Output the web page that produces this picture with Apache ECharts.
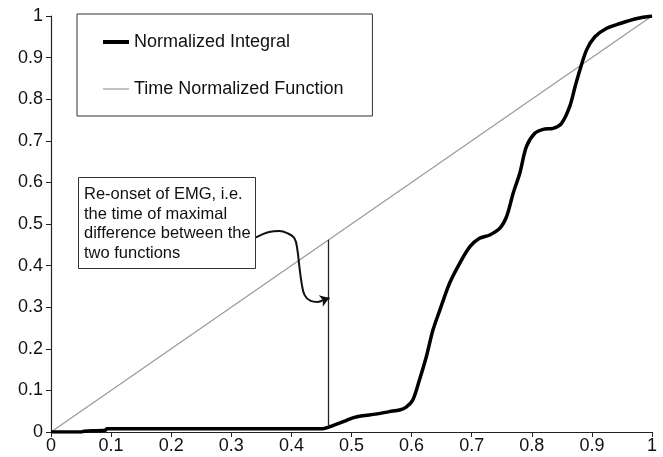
<!DOCTYPE html>
<html>
<head>
<meta charset="utf-8">
<script src="https://cdn.jsdelivr.net/npm/echarts@6/dist/echarts.min.js"></script>
<style>
  html, body { margin: 0; padding: 0; background: #fff; }
  #chart { width: 663px; height: 457px; }
</style>
</head>
<body>
<div id="chart"></div>
<script>
// tick labels
const xTicks = [0, 0.1, 0.2, 0.3, 0.4, 0.5, 0.6, 0.7, 0.8, 0.9, 1];
const yTicks = [0, 0.1, 0.2, 0.3, 0.4, 0.5, 0.6, 0.7, 0.8, 0.9, 1];

// Normalized Integral
const integralX = [0, 0.05, 0.055, 0.09, 0.093, 0.2, 0.3, 0.4, 0.452, 0.47, 0.49, 0.502, 0.518, 0.54,
  0.563, 0.58, 0.591, 0.602, 0.613, 0.6245, 0.6355, 0.647, 0.663, 0.68, 0.697, 0.713, 0.73,
  0.747, 0.758, 0.769, 0.78, 0.791, 0.805, 0.819, 0.8355, 0.8495, 0.863, 0.872, 0.88, 0.891,
  0.905, 0.924, 0.947, 0.975, 1];
const integralY = [0, 0, 0.002, 0.004, 0.008, 0.008, 0.008, 0.008, 0.008, 0.016, 0.027, 0.034, 0.039, 0.043,
  0.049, 0.053, 0.06, 0.077, 0.125, 0.181, 0.245, 0.293, 0.357, 0.4055, 0.4455, 0.4655, 0.4736,
  0.49, 0.5176, 0.574, 0.622, 0.686, 0.718, 0.7276, 0.73, 0.742, 0.782, 0.83, 0.87, 0.918,
  0.95, 0.97, 0.982, 0.994, 1];

// Time Normalized Function
const timeX = [0, 1];
const timeY = [0, 1];

// re-onset marker: vertical drop between the two functions
const reonsetX = 0.462;
const reonsetTop = 0.462;
const reonsetBottom = 0.012;

// callout connector from the text box to the marker
const calloutX = [0.338, 0.35, 0.363, 0.38, 0.393, 0.405, 0.41, 0.413, 0.417, 0.422, 0.432, 0.443, 0.453, 0.463];
const calloutY = [0.466, 0.474, 0.481, 0.483, 0.478, 0.466, 0.4375, 0.401, 0.358, 0.329, 0.315, 0.3125, 0.317, 0.322];

const calloutText = 'Re-onset of EMG, i.e.\nthe time of maximal\ndifference between the\ntwo functions';

const zip = (xs, ys) => xs.map((x, i) => [x, ys[i]]);
const fontFamily = 'Liberation Sans, Arial, sans-serif';

const chart = echarts.init(document.getElementById('chart'));

const calloutPts = zip(calloutX, calloutY);

const tickFormatter = ticks => v => {
  const t = ticks.find(k => Math.abs(k - v) < 1e-6);
  return t === undefined ? '' : String(t);
};

chart.setOption({
  animation: false,
  backgroundColor: '#fff',
  grid: { left: 51, right: 11, top: 16, bottom: 25 },
  legend: {
    left: 77,
    top: 14,
    orient: 'vertical',
    padding: [19, 29, 18, 26],
    itemGap: 29,
    itemWidth: 26,
    itemHeight: 14,
    symbolKeepAspect: true,
    borderColor: '#333',
    borderWidth: 1,
    textStyle: { fontSize: 18, color: '#111', fontFamily },
    data: [
      { name: 'Normalized Integral', icon: 'path://M0,0H26V4H0Z' },
      { name: 'Time Normalized Function', icon: 'path://M0,0H26V1.2H0Z' }
    ]
  },
  xAxis: {
    type: 'value',
    min: 0,
    max: 1,
    interval: 0.1,
    axisLine: { lineStyle: { color: '#222', width: 1.2 } },
    axisTick: { show: true, inside: false, length: 5, lineStyle: { color: '#222' } },
    splitLine: { show: false },
    axisLabel: { fontSize: 18, color: '#111', fontFamily, margin: 5, formatter: tickFormatter(xTicks) }
  },
  yAxis: {
    type: 'value',
    min: 0,
    max: 1,
    interval: 0.1,
    axisLine: { show: true, lineStyle: { color: '#222', width: 1.2 } },
    axisTick: { show: true, inside: false, length: 5, lineStyle: { color: '#222' } },
    splitLine: { show: false },
    axisLabel: { fontSize: 18, color: '#111', fontFamily, margin: 8, formatter: tickFormatter(yTicks) }
  },
  series: [
    {
      name: 'Time Normalized Function',
      type: 'line',
      data: zip(timeX, timeY),
      showSymbol: false,
      symbol: 'none',
      lineStyle: { color: '#999', width: 1.2 },
      itemStyle: { color: '#999' },
      z: 2
    },
    {
      name: 'Normalized Integral',
      type: 'line',
      data: zip(integralX, integralY),
      showSymbol: false,
      symbol: 'none',
      smooth: 0.3,
      lineStyle: { color: '#000', width: 3.5 },
      itemStyle: { color: '#000' },
      z: 3
    },
    {
      type: 'line',
      data: calloutPts,
      showSymbol: false,
      symbol: 'none',
      smooth: 0.4,
      silent: true,
      lineStyle: { color: '#111', width: 2 },
      z: 4,
      markLine: {
        silent: true,
        symbol: 'none',
        label: { show: false },
        lineStyle: { color: '#222', width: 1.3, type: 'solid' },
        data: [[{ coord: [reonsetX, reonsetTop] }, { coord: [reonsetX, reonsetBottom] }]]
      }
    },
    {
      type: 'lines',
      coordinateSystem: 'cartesian2d',
      silent: true,
      symbol: ['none', 'arrow'],
      symbolSize: 9,
      lineStyle: { color: '#111', width: 2, opacity: 1 },
      data: [{ coords: [calloutPts[calloutPts.length - 2], calloutPts[calloutPts.length - 1]] }],
      z: 5
    }
  ],
  graphic: [
    {
      type: 'rect',
      left: 78,
      top: 177,
      shape: { width: 177, height: 91 },
      style: { fill: '#fff', stroke: '#333', lineWidth: 1 },
      z: 10
    },
    {
      type: 'text',
      left: 84,
      top: 185,
      style: { text: calloutText, fontSize: 16.5, lineHeight: 19.5, fill: '#111', fontFamily },
      z: 11
    }
  ]
});
</script>
</body>
</html>
